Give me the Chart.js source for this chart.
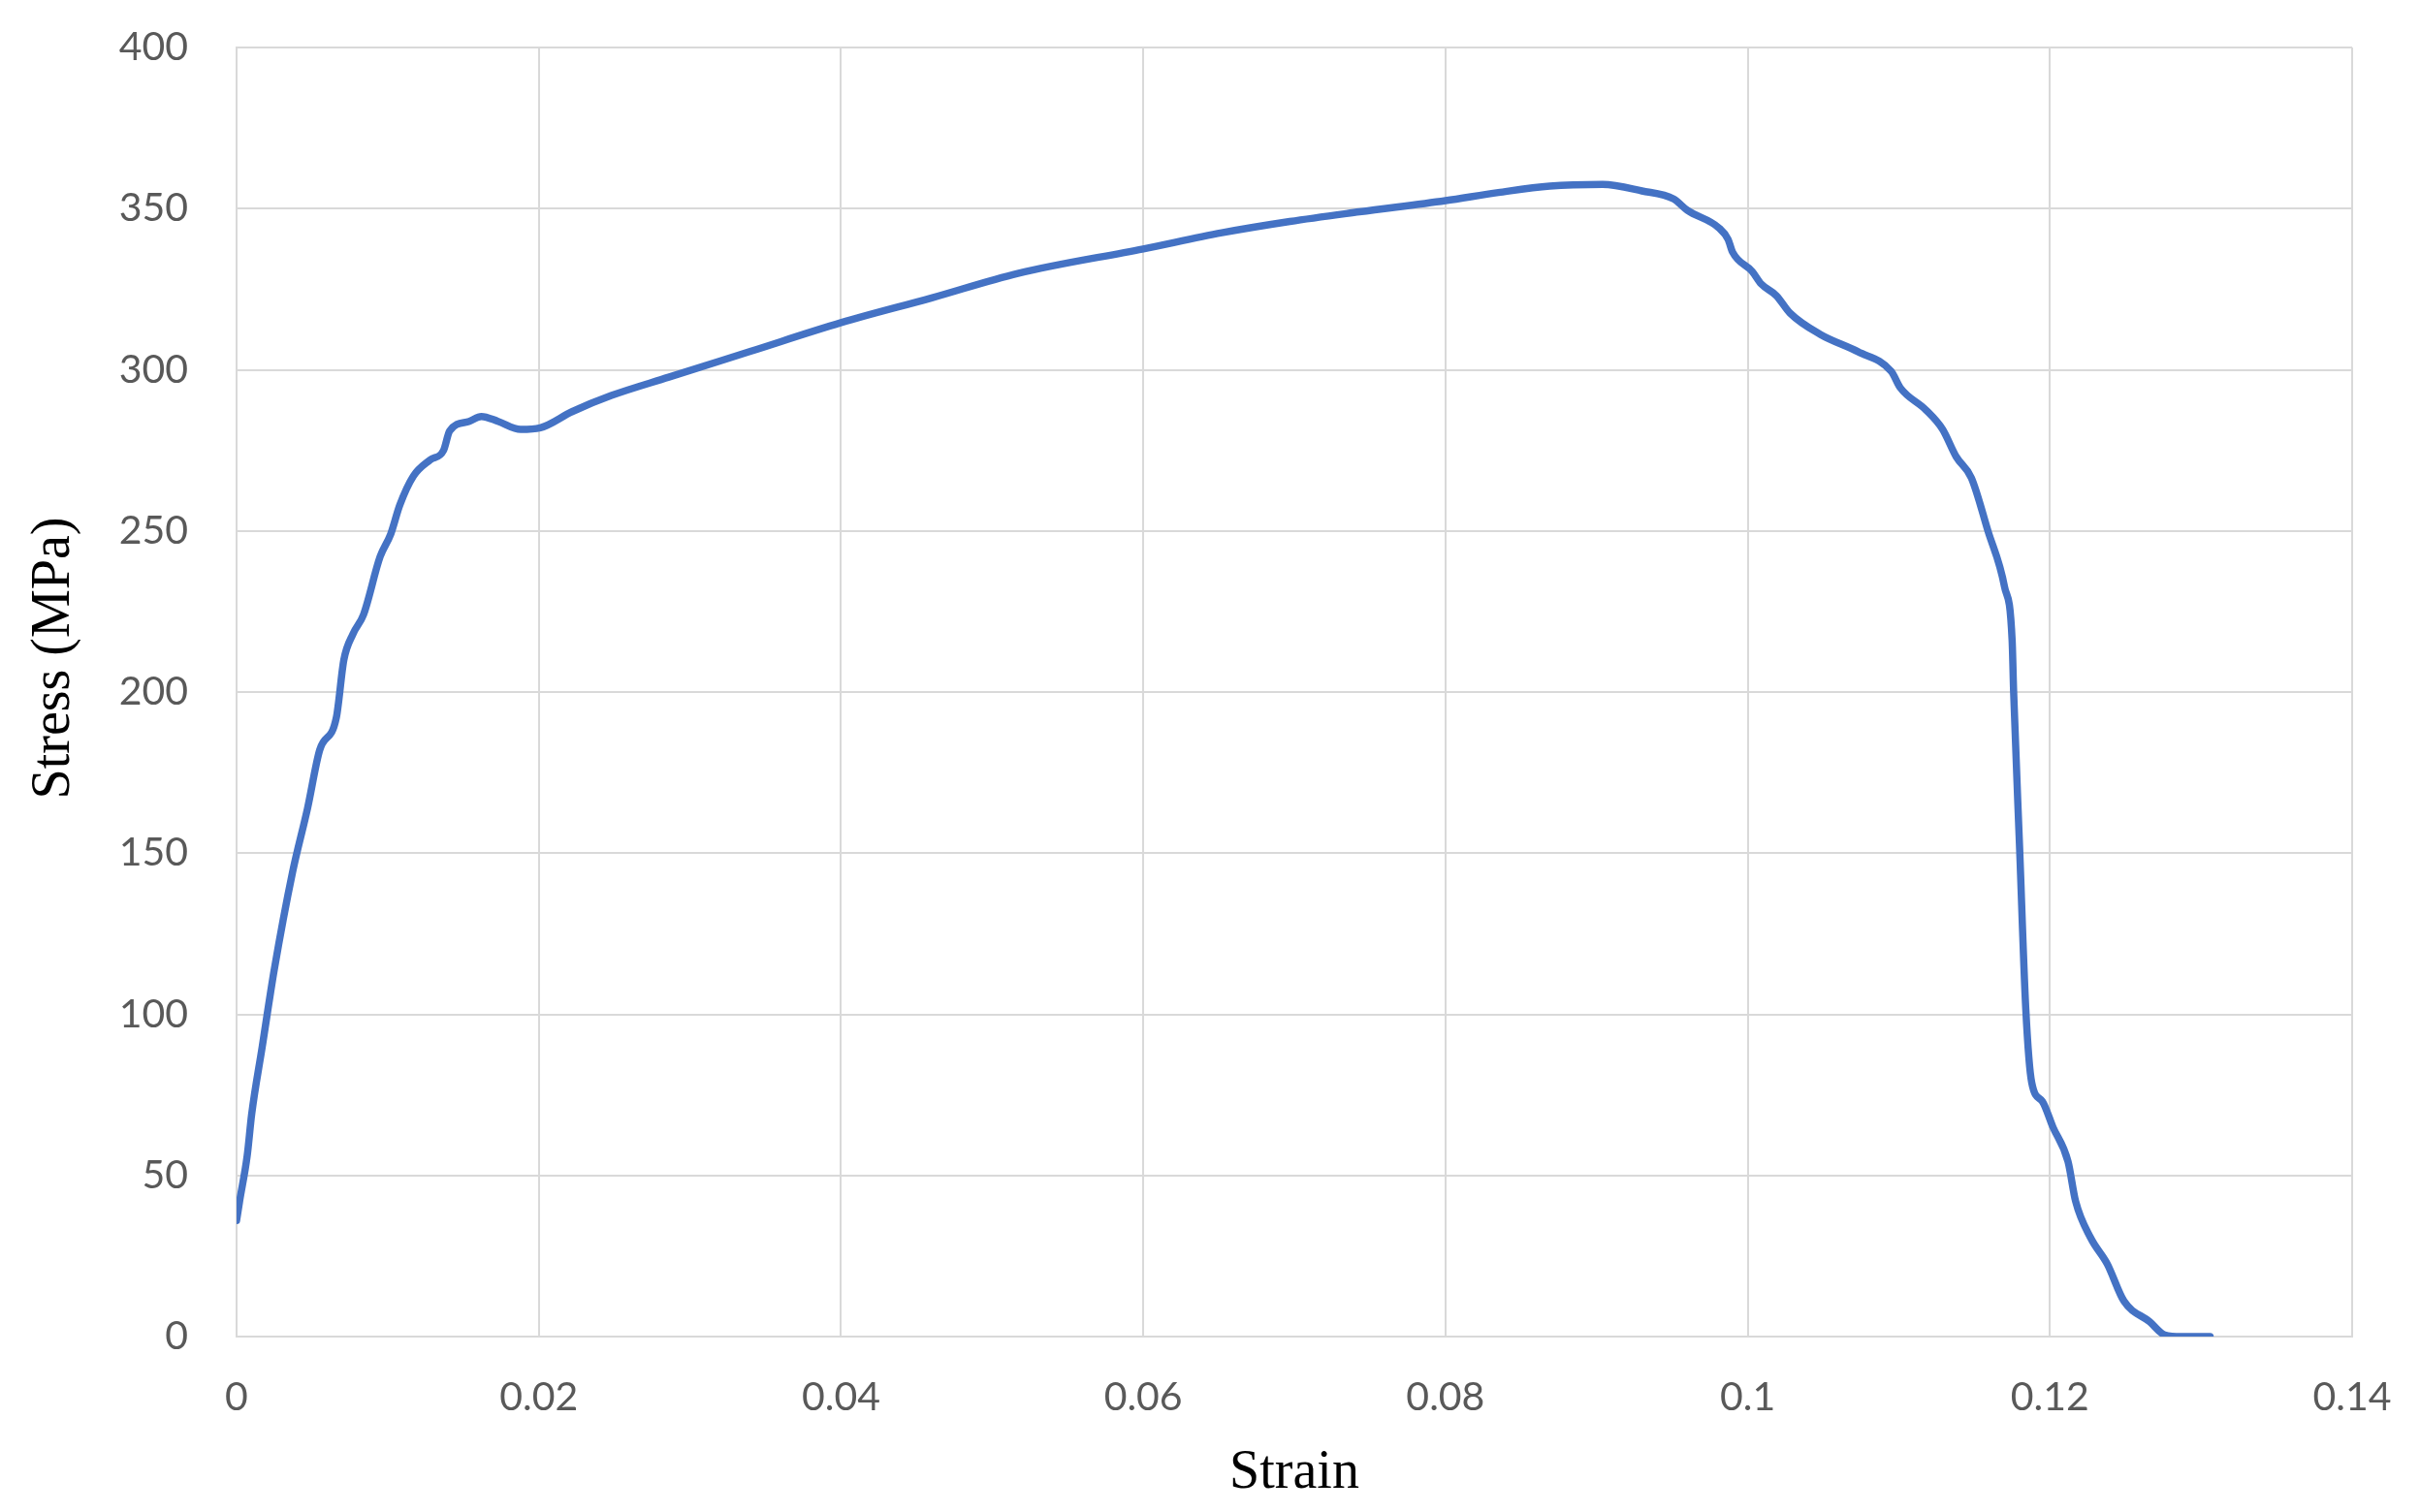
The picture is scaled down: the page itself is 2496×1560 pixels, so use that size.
<!DOCTYPE html>
<html>
<head>
<meta charset="utf-8">
<script src="https://cdn.jsdelivr.net/npm/chart.js@4"></script>
<style>
  html, body { margin: 0; padding: 0; background: #ffffff; }
  canvas { display: block; }
</style>
</head>
<body>
<canvas id="chart" width="2496" height="1560"></canvas>
<script>
// values
const strain = [
  0, 0.0002, 0.0007, 0.001, 0.0017, 0.0025, 0.0037, 0.0047, 0.0055, 0.0066,
  0.0071, 0.0077, 0.0084, 0.0095, 0.0102, 0.0108, 0.0117, 0.0128, 0.0137, 0.0141,
  0.0154, 0.0162, 0.0173, 0.0188, 0.0201, 0.0222, 0.0248, 0.0286, 0.034, 0.04,
  0.046, 0.0517, 0.06, 0.0652, 0.0697, 0.0743, 0.08, 0.0835, 0.0869, 0.0904,
  0.093, 0.0951, 0.096, 0.0981, 0.0987, 0.099, 0.1003, 0.1009, 0.1019, 0.1028,
  0.1048, 0.1073, 0.1095, 0.1101, 0.1118, 0.1129, 0.1138, 0.1148, 0.1159, 0.117,
  0.1175, 0.1176, 0.118, 0.1184, 0.1188, 0.1195, 0.1202, 0.1212, 0.1217, 0.1227,
  0.1238, 0.1249, 0.1266, 0.1276, 0.1287, 0.1306
];
const stress = [
  36, 42, 56, 69, 90, 114, 144, 164, 182, 192,
  210, 218, 224, 242, 249, 258, 267, 272, 275, 281,
  284, 285.5, 284, 281.5, 282, 287, 292, 297.7, 305.7, 314.6,
  322.3, 329.9, 337.5, 342.5, 346, 349, 352.5, 355, 357, 357.5,
  355.5, 353, 349.5, 344, 340.5, 336.5, 330.5, 326.6, 323, 317.6,
  311, 305.6, 299.5, 294.4, 287.5, 281.5, 273, 266.5, 250, 232.6,
  216, 200, 151, 102, 78.7, 73, 65, 54.3, 42, 30.6,
  22.5, 11, 4.6, 0.5, 0, 0
];

const xTickLabels = ["0", "0.02", "0.04", "0.06", "0.08", "0.1", "0.12", "0.14"];
const yTickLabels = ["0", "50", "100", "150", "200", "250", "300", "350", "400"];

const gridColor = "#d9d9d9";
const tickColor = "#595959";

const points = strain.map((x, i) => ({ x: x, y: stress[i] }));

const ctx = document.getElementById("chart").getContext("2d");
new Chart(ctx, {
  type: "line",
  data: {
    datasets: [{
      label: "Stress",
      data: points,
      borderColor: "#4472C4",
      borderWidth: 7.5,
      borderCapStyle: "round",
      borderJoinStyle: "round",
      pointRadius: 0,
      cubicInterpolationMode: "monotone",
      fill: false
    }]
  },
  options: {
    responsive: false,
    animation: false,
    layout: { padding: { top: 49, right: 70, bottom: 0, left: 0 } },
    plugins: {
      legend: { display: false },
      tooltip: { enabled: false }
    },
    scales: {
      x: {
        type: "linear",
        min: 0,
        max: 0.14,
        afterFit: (scale) => {
          scale.height = 181;
          // let layout padding decide the plot edges
          scale.paddingLeft = 0;
          scale.paddingRight = 0;
        },
        afterBuildTicks: (scale) => {
          scale.ticks = xTickLabels.map((t, i) => ({ value: i * 0.02 }));
        },
        ticks: {
          color: tickColor,
          font: { family: "Lato", size: 41 },
          padding: 38,
          maxRotation: 0,
          callback: (value, index) => xTickLabels[index]
        },
        grid: { color: gridColor, lineWidth: 2, drawTicks: false },
        border: { color: gridColor, width: 2 },
        title: {
          display: true,
          text: "Strain",
          color: "#000000",
          font: { family: "Liberation Serif", size: 56 },
          padding: { top: 0, bottom: 6 }
        }
      },
      y: {
        min: 0,
        max: 400,
        afterFit: (scale) => {
          scale.width = 244;
          scale.paddingTop = 0;
          scale.paddingBottom = 0;
        },
        afterBuildTicks: (scale) => {
          scale.ticks = yTickLabels.map((t, i) => ({ value: i * 50 }));
        },
        ticks: {
          color: tickColor,
          font: { family: "Lato", size: 41 },
          padding: 50,
          callback: (value, index) => yTickLabels[index]
        },
        grid: { color: gridColor, lineWidth: 2, drawTicks: false },
        border: { color: gridColor, width: 2 },
        title: {
          display: true,
          text: "     Stress (MPa)",
          color: "#000000",
          font: { family: "Liberation Serif", size: 56 },
          padding: { top: 23, bottom: 0 }
        }
      }
    }
  }
});
</script>
</body>
</html>
